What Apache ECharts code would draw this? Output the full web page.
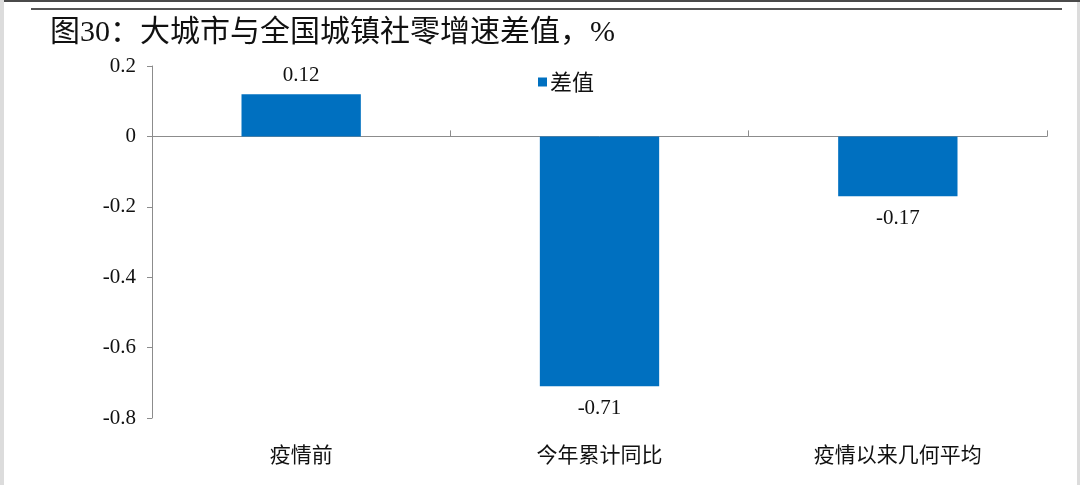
<!DOCTYPE html>
<html>
<head>
<meta charset="utf-8">
<script src="https://cdn.jsdelivr.net/npm/echarts@6/dist/echarts.min.js"></script>
<style>
html,body{margin:0;padding:0;background:#fff;}
#chart{width:1080px;height:485px;}
</style>
</head>
<body>
<div id="chart"></div>
<script>
var titleText = '图30：大城市与全国城镇社零增速差值，%';
var categories = ['疫情前', '今年累计同比', '疫情以来几何平均'];
var seriesName = '差值';
var values = [0.12, -0.71, -0.17];
var yTicks = { min: -0.8, max: 0.2, interval: 0.2 };

var serif = '"Liberation Serif", "Times New Roman", "Noto Sans CJK SC", serif';
var cjk = '"Noto Sans CJK SC", sans-serif';

var chart = echarts.init(document.getElementById('chart'));
chart.setOption({
  backgroundColor: '#fff',
  animation: false,
  title: {
    text: titleText,
    left: 45,
    top: 13,
    textStyle: { fontFamily: '"Liberation Serif", "Noto Sans CJK SC", serif', fontSize: 30, fontWeight: 'normal', color: '#111' }
  },
  legend: {
    data: [seriesName],
    left: 533,
    top: 66,
    icon: 'rect',
    itemWidth: 9,
    itemHeight: 9,
    itemGap: 4,
    textStyle: { fontFamily: cjk, fontSize: 22, color: '#111', padding: [0, 0, 0, -2] }
  },
  grid: { left: 152, right: 33, top: 66, bottom: 67 },
  xAxis: [
    {
      type: 'category',
      data: categories,
      boundaryGap: true,
      axisLine: { show: true, onZero: true, lineStyle: { color: '#8c8c8c', width: 1 } },
      axisTick: { show: true, inside: true, length: 6, alignWithLabel: false, lineStyle: { color: '#8c8c8c' } },
      axisLabel: { show: false },
      splitLine: { show: false }
    },
    {
      type: 'category',
      data: categories,
      position: 'bottom',
      axisLine: { show: false, onZero: false },
      axisTick: { show: false },
      axisLabel: { show: true, margin: 26, fontFamily: cjk, fontSize: 21, color: '#111' },
      splitLine: { show: false }
    }
  ],
  yAxis: {
    type: 'value',
    min: yTicks.min,
    max: yTicks.max,
    interval: yTicks.interval,
    axisLine: { show: true, lineStyle: { color: '#8c8c8c', width: 1 } },
    axisTick: { show: true, length: 5, lineStyle: { color: '#8c8c8c' } },
    axisLabel: {
      margin: 16, fontFamily: serif, fontSize: 21, color: '#111',
      formatter: function (v) { return String(Math.round(v * 10) / 10); }
    },
    splitLine: { show: false }
  },
  series: [{
    name: seriesName,
    type: 'bar',
    xAxisIndex: 0,
    barWidth: '40%',
    itemStyle: { color: '#0070C0' },
    label: {
      show: true,
      fontFamily: serif,
      fontSize: 21,
      color: '#111',
      distance: 8
    },
    data: values.map(function (v) {
      return {
        value: v,
        label: { position: v >= 0 ? 'top' : 'bottom', distance: v >= 0 ? 8 : 12 }
      };
    })
  }],
  graphic: [
    { type: 'rect', shape: { x: 0, y: 0, width: 1080, height: 2 }, style: { fill: '#4a4a4a' }, silent: true },
    { type: 'rect', shape: { x: 0, y: 0, width: 4, height: 485 }, style: { fill: '#dcdcdc' }, silent: true },
    { type: 'rect', shape: { x: 1077, y: 2, width: 3, height: 483 }, style: { fill: '#dcdcdc' }, silent: true },
    { type: 'rect', shape: { x: 31, y: 8, width: 1031, height: 2 }, style: { fill: '#555' }, silent: true }
  ]
});
</script>
</body>
</html>
